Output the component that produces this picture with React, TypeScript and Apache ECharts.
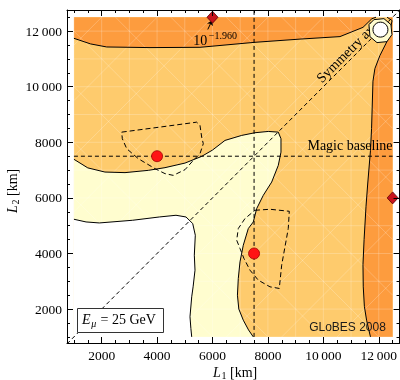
import React, { useEffect, useRef } from "react";
import * as echarts from "echarts";

// ---- axes ----
const X_RANGE = [750, 12750];
const Y_RANGE = [780, 12760];
const X_MAJOR = [2000, 4000, 6000, 8000, 10000, 12000];
const Y_MAJOR = [2000, 4000, 6000, 8000, 10000, 12000];
const MINOR = [1000, 1500, 2500, 3000, 3500, 4500, 5000, 5500, 6500, 7000, 7500, 8500, 9000, 9500, 10500, 11000, 11500, 12500];

// ---- contour data (L1, L2 in km) ----
const DOMAIN = [[1000, 1000], [12500, 1000], [12500, 12500], [1000, 12500]];
const TOP_CONTOUR = [[1000, 11741], [1600, 11540], [2183, 11430], [3745, 11407], [5549, 11418], [7533, 11598], [9157, 11713], [10600, 11803], [11430, 12136], [11750, 12445], [11900, 12500]];
const RIGHT_CONTOUR = [[12300, 12500], [12480, 12380], [12342, 11720], [12040, 11120], [11860, 10653], [11790, 10200], [11740, 8500], [11700, 7700], [11600, 6500], [11540, 5700], [11470, 4500], [11430, 3600], [11440, 2800], [11480, 2100], [11560, 1600], [11700, 1000]];
const YELLOW_CONTOUR = [[1000, 7389], [1500, 7080], [2119, 6930], [2843, 6909], [3684, 6991], [4286, 7088], [5008, 7253], [5610, 7494], [6000, 7720], [6451, 8068], [7053, 8248], [7533, 8345], [8013, 8391], [8374, 8366], [8471, 8129], [8471, 7648], [8374, 7171], [8136, 6571], [7833, 6093], [7595, 5616], [7472, 5135], [7292, 4898], [7111, 4298], [6992, 3698], [6931, 3102], [6900, 2500], [6950, 2000], [7112, 1600], [7300, 1250], [7472, 1000]];
const WHITE_CONTOUR = [[1000, 5232], [1437, 5135], [1916, 5099], [3121, 5196], [4081, 5314], [4683, 5375], [5044, 5314], [5286, 5077], [5380, 4657], [5344, 3939], [5369, 3400], [5300, 2800], [5250, 2442], [5188, 1724], [5220, 1300], [5250, 1000]];
const RING = [[11646, 12233], [11826, 12413], [12187, 12449], [12439, 12233], [12475, 11874], [12295, 11622], [11935, 11587], [11682, 11802]];
const HOLE_CENTER = [12060, 12054];
const HOLE_RADIUS = 270;
const LOOP_A = [[2724, 8366], [3926, 8524], [5008, 8668], [5430, 8725], [5549, 8607], [5610, 8187], [5668, 7950], [5549, 7591], [5307, 7350], [5008, 7016], [4586, 6811], [4286, 6873], [3926, 7052], [3323, 7411], [2905, 7770], [2746, 8129]];
const LOOP_B = [[7533, 5555], [8074, 5591], [8771, 5519], [8734, 4898], [8615, 4237], [8496, 3580], [8410, 2743], [8074, 2801], [7652, 3041], [7353, 3400], [7136, 3820], [6992, 4180], [6873, 4478], [6931, 4898], [7172, 5257]];

// ---- reference lines & points ----
const SYMMETRY_AXIS = [[750, 750], [12750, 12750]];
const MAGIC_BASELINE = [[1000, 7500], [12500, 7500]];
const L1_LINE = [[7500, 1000], [7500, 12760]];
const RED_DOTS = [[4000, 7500], [7500, 4000]];
const DIAMONDS = [[6000, 12500], [12500, 6000]];
const ARROW = [[5830, 12060], [5985, 12385]];

// ---- rendering-mesh lattice (plot texture), km ----
const MESH_LINES = [1000, 2000, 3000, 4000, 5000, 6000, 7000, 8000, 9000, 10000, 11000, 12000];

// ---- annotation anchors ----
const SYM_LABEL_AT = [10912, 11303];
const MAGIC_LABEL_AT = [12498, 7903];
const LEVEL_BASE_AT = [5561, 11645];
const LEVEL_EXP_AT = [5867, 11825];

const ORANGE = "#FD9C3E";
const LIGHT = "#FECB6D";
const YELLOW = "#FFFDCF";
const SERIF = '"Liberation Serif", "Times New Roman", serif';
const SANS = '"Liberation Sans", Arial, sans-serif';

const fmt = (v: number) =>
  v >= 10000 ? `${Math.floor(v / 1000)}\u2009${String(v % 1000).padStart(3, "0")}` : String(v);

function polySeries(pts: number[][], fill: string, z: number) {
  return {
    type: "custom",
    coordinateSystem: "cartesian2d",
    clip: true,
    silent: true,
    z,
    data: [[1000, 1000]],
    renderItem: (_p: any, api: any) => ({
      type: "polygon",
      shape: { points: pts.map((p) => api.coord(p)) },
      style: { fill, stroke: null },
    }),
  };
}

function lineSeries(pts: number[][], z: number, dash: number[] | null, closed = false) {
  return {
    type: "custom",
    coordinateSystem: "cartesian2d",
    clip: true,
    silent: true,
    z,
    data: [[1000, 1000]],
    renderItem: (_p: any, api: any) => ({
      type: closed ? "polygon" : "polyline",
      shape: { points: pts.map((p) => api.coord(p)) },
      style: { fill: null, stroke: "#000", lineWidth: 1, lineDash: dash || null },
    }),
  };
}

function meshSeries(z: number) {
  return {
    type: "custom",
    coordinateSystem: "cartesian2d",
    clip: true,
    silent: true,
    z,
    data: [[1000, 1000]],
    renderItem: (_p: any, api: any) => {
      const lo = DOMAIN[0][0];
      const hi = DOMAIN[2][0];
      const children: any[] = [];
      const st = { stroke: "rgba(255,255,255,0.28)", lineWidth: 0.8, fill: null };
      MESH_LINES.forEach((v) => {
        const a = api.coord([v, lo]);
        const b = api.coord([v, hi]);
        children.push({ type: "line", shape: { x1: a[0], y1: a[1], x2: b[0], y2: b[1] }, style: st });
        const c = api.coord([lo, v]);
        const d = api.coord([hi, v]);
        children.push({ type: "line", shape: { x1: c[0], y1: c[1], x2: d[0], y2: d[1] }, style: st });
      });
      for (let k = -11500; k <= 11500; k += 2000) {
        // diagonals L2 = L1 + k and L2 = -L1 + s
        const x1 = Math.max(lo, lo - k);
        const x2 = Math.min(hi, hi - k);
        if (x2 > x1) {
          const a = api.coord([x1, x1 + k]);
          const b = api.coord([x2, x2 + k]);
          children.push({ type: "line", shape: { x1: a[0], y1: a[1], x2: b[0], y2: b[1] }, style: st });
        }
      }
      for (let s = 2000 + 1000; s <= 25000; s += 2000) {
        const x1 = Math.max(lo, s - hi);
        const x2 = Math.min(hi, s - lo);
        if (x2 > x1) {
          const a = api.coord([x1, s - x1]);
          const b = api.coord([x2, s - x2]);
          children.push({ type: "line", shape: { x1: a[0], y1: a[1], x2: b[0], y2: b[1] }, style: st });
        }
      }
      return { type: "group", children };
    },
  };
}

function axis(kind: "x" | "y", pos: string, ticks: number[], len: number, showLine: boolean, labels: boolean) {
  const r = kind === "x" ? X_RANGE : Y_RANGE;
  return {
    type: "value",
    min: r[0],
    max: r[1],
    position: pos,
    z: 20,
    axisLine: { show: showLine, onZero: false, lineStyle: { color: "#000", width: 1 } },
    axisTick: { show: true, inside: true, length: len, customValues: ticks, lineStyle: { color: "#000", width: 1 } },
    axisLabel: labels
      ? { show: true, customValues: ticks, formatter: fmt, color: "#000", fontFamily: SERIF, fontSize: 13.5, margin: 5 }
      : { show: false },
    splitLine: { show: false },
  };
}

export default function App() {
  const ref = useRef<HTMLDivElement>(null);
  useEffect(() => {
    const chart = echarts.init(ref.current!, null, { renderer: "svg" });
    const mid = { textVerticalAlign: "middle", verticalAlign: "middle" };
    const option: any = {
      animation: false,
      grid: { left: 67, right: 0, top: 10, bottom: 37, containLabel: false },
      xAxis: [
        axis("x", "bottom", X_MAJOR, 6, true, true),
        axis("x", "bottom", MINOR, 3, false, false),
        axis("x", "top", X_MAJOR, 6, true, false),
        axis("x", "top", MINOR, 3, false, false),
      ],
      yAxis: [
        axis("y", "left", Y_MAJOR, 6, true, true),
        axis("y", "left", MINOR, 3, false, false),
        axis("y", "right", Y_MAJOR, 6, true, false),
        axis("y", "right", MINOR, 3, false, false),
      ],
      series: [
        polySeries(DOMAIN, LIGHT, 1),
        polySeries([...TOP_CONTOUR, [1000, 12500]], ORANGE, 2),
        polySeries([...RIGHT_CONTOUR, [12500, 1000], [12500, 12500]], ORANGE, 2),
        polySeries([...YELLOW_CONTOUR, [1000, 1000]], YELLOW, 3),
        polySeries([...WHITE_CONTOUR, [1000, 1000]], "#FFFFFF", 4),
        meshSeries(4.5),
        lineSeries(TOP_CONTOUR, 5, null),
        lineSeries(RIGHT_CONTOUR, 5, null),
        lineSeries(YELLOW_CONTOUR, 5, null),
        lineSeries(WHITE_CONTOUR, 5, null),
        lineSeries(LOOP_A, 5, [5, 3], true),
        lineSeries(LOOP_B, 5, [5, 3], true),
        lineSeries(SYMMETRY_AXIS, 5, [4, 3]),
        lineSeries(MAGIC_BASELINE, 5, [4, 3]),
        lineSeries(L1_LINE, 5, [4, 3]),
        {
          type: "custom",
          coordinateSystem: "cartesian2d",
          clip: false,
          silent: true,
          z: 6,
          data: [[1000, 1000]],
          renderItem: (_p: any, api: any) => {
            const s = api.coord(SYM_LABEL_AT);
            const m = api.coord(MAGIC_LABEL_AT);
            const b = api.coord(LEVEL_BASE_AT);
            const e = api.coord(LEVEL_EXP_AT);
            return {
              type: "group",
              children: [
                { type: "text", x: s[0], y: s[1], rotation: Math.PI / 4, style: { text: "Symmetry axis", font: `14px ${SERIF}`, fill: "#000", textAlign: "center", align: "center", ...mid } },
                { type: "text", x: m[0], y: m[1], style: { text: "Magic baseline", font: `14px ${SERIF}`, fill: "#000", textAlign: "right", align: "right", ...mid } },
                { type: "text", x: b[0], y: b[1], style: { text: "10", font: `14px ${SERIF}`, fill: "#000", textAlign: "center", align: "center", ...mid } },
                { type: "text", x: e[0], y: e[1], style: { text: "\u22121.960", font: `10px ${SERIF}`, fill: "#000", textAlign: "left", align: "left", ...mid } },
              ],
            };
          },
        },
        {
          type: "custom",
          coordinateSystem: "cartesian2d",
          clip: true,
          silent: true,
          z: 7,
          data: [[1000, 1000]],
          renderItem: (_p: any, api: any) => {
            const c = api.coord(HOLE_CENTER);
            const r = api.size([HOLE_RADIUS, HOLE_RADIUS])[0];
            return {
              type: "group",
              children: [
                { type: "polygon", shape: { points: RING.map((p) => api.coord(p)) }, style: { fill: YELLOW, stroke: "#000", lineWidth: 1 } },
                { type: "circle", shape: { cx: c[0], cy: c[1], r }, style: { fill: "#FFFFFF", stroke: "#000", lineWidth: 1 } },
              ],
            };
          },
        },
        {
          type: "lines",
          coordinateSystem: "cartesian2d",
          z: 8,
          symbol: ["none", "arrow"],
          symbolSize: 5,
          lineStyle: { color: "#000", width: 1, opacity: 1 },
          data: [{ coords: ARROW }],
          silent: true,
        },
        {
          type: "scatter",
          z: 9,
          symbol: "circle",
          symbolSize: 11,
          itemStyle: { color: "#FF1414", borderColor: "#9A0000", borderWidth: 0.8, opacity: 1 },
          data: RED_DOTS,
          silent: true,
        },
        {
          type: "scatter",
          z: 9,
          symbol: "diamond",
          symbolSize: [11, 12],
          clip: false,
          itemStyle: { color: "#C8141C", borderColor: "#5A0000", borderWidth: 0.8, opacity: 1 },
          data: DIAMONDS,
          silent: true,
        },
      ],
      graphic: [
        { type: "rect", z: 100, shape: { x: 77.5, y: 308.5, width: 86, height: 24 }, style: { fill: "#FFFFFF", stroke: "#333", lineWidth: 1 } },
        { type: "text", z: 101, x: 82, y: 319.5, style: { text: "E", font: `italic 14px ${SERIF}`, fill: "#000", ...mid } },
        { type: "text", z: 101, x: 91.3, y: 323, style: { text: "\u03BC", font: `italic 10px ${SERIF}`, fill: "#000", ...mid } },
        { type: "text", z: 101, x: 100.5, y: 319.5, style: { text: "= 25 GeV", font: `14px ${SERIF}`, fill: "#000", ...mid } },
        { type: "text", z: 101, x: 347.5, y: 327, style: { text: "GLoBES 2008", font: `12px ${SANS}`, fill: "#1a1a1a", textAlign: "center", align: "center", ...mid } },
        { type: "text", z: 101, x: 213, y: 372, style: { text: "L", font: `italic 14px ${SERIF}`, fill: "#000", ...mid } },
        { type: "text", z: 101, x: 221.5, y: 375.5, style: { text: "1", font: `10px ${SERIF}`, fill: "#000", ...mid } },
        { type: "text", z: 101, x: 230, y: 372, style: { text: "[km]", font: `14px ${SERIF}`, fill: "#000", ...mid } },
        {
          type: "group",
          z: 101,
          x: 12,
          y: 180,
          rotation: Math.PI / 2,
          children: [
            { type: "text", z: 101, x: -33, y: 0, style: { text: "L", font: `italic 14px ${SERIF}`, fill: "#000", ...mid } },
            { type: "text", z: 101, x: -24.5, y: 3.5, style: { text: "2", font: `10px ${SERIF}`, fill: "#000", ...mid } },
            { type: "text", z: 101, x: -16, y: 0, style: { text: "[km]", font: `14px ${SERIF}`, fill: "#000", ...mid } },
          ],
        },
      ],
    };
    chart.setOption(option);
    return () => chart.dispose();
  }, []);
  return <div ref={ref} style={{ position: "fixed", left: 0, top: 0, width: 400, height: 380 }} />;
}
